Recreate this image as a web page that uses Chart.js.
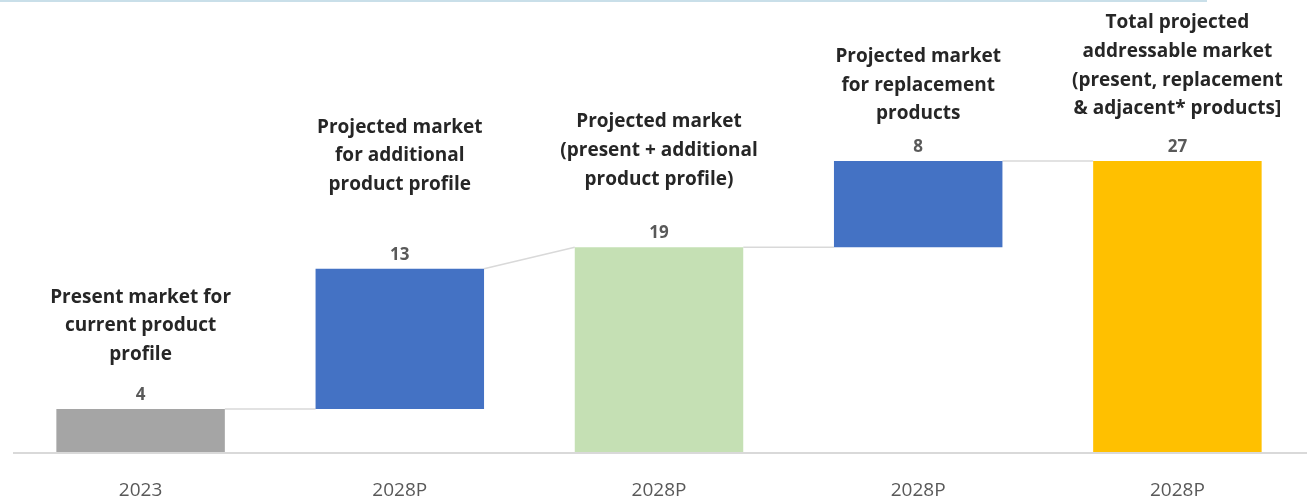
<!DOCTYPE html>
<html>
<head>
<meta charset="utf-8">
<script src="https://cdn.jsdelivr.net/npm/chart.js@4.4.1/dist/chart.umd.min.js"></script>
<style>
  html, body { margin: 0; padding: 0; background: #ffffff; }
  #wrap { position: relative; width: 1312px; height: 502px; }
</style>
</head>
<body>
<div id="wrap"><canvas id="c" width="1312" height="502"></canvas></div>
<script>
// Market size waterfall
const categories = ['2023', '2028P', '2028P', '2028P', '2028P'];
const barStart   = [0, 4, 0, 19, 0];
const barEnd     = [4, 17, 19, 27, 27];
const valueLabels = ['4', '13', '19', '8', '27'];
const notes = [
  ['Present market for', 'current product', 'profile'],
  ['Projected market', 'for additional', 'product profile'],
  ['Projected market', '(present + additional', 'product profile)'],
  ['Projected market', 'for replacement', 'products'],
  ['Total projected', 'addressable market', '(present, replacement', '& adjacent* products]']
];
const barColors = ['#a5a5a5', '#4472c4', '#c5e0b4', '#4472c4', '#ffc000'];

// distance (px) from the value label up to the last line of each note
const noteLift = [40, 70, 54, 33, 38];

const FONT = '"Open Sans", "Noto Sans", "Liberation Sans", sans-serif';

const decorations = {
  id: 'decorations',
  beforeDatasetsDraw(chart) {
    const ctx = chart.ctx;
    const y = chart.scales.y;
    const area = chart.chartArea;
    ctx.save();
    // thin rule along the top edge
    ctx.strokeStyle = '#c9dfe9';
    ctx.lineWidth = 2;
    ctx.beginPath();
    ctx.moveTo(0, 1);
    ctx.lineTo(1207, 1);
    ctx.stroke();
    // baseline
    ctx.strokeStyle = '#d9d9d9';
    ctx.lineWidth = 2;
    ctx.beginPath();
    ctx.moveTo(area.left + 2, y.getPixelForValue(0) + 1);
    ctx.lineTo(area.right, y.getPixelForValue(0) + 1);
    ctx.stroke();
    // connectors between neighbouring bars
    const bars = chart.getDatasetMeta(0).data;
    ctx.strokeStyle = '#d9d9d9';
    ctx.lineWidth = 1.5;
    for (let i = 0; i < bars.length - 1; i++) {
      const a = bars[i], b = bars[i + 1];
      const x1 = a.x + a.width / 2;
      const x2 = b.x - b.width / 2;
      const y1 = y.getPixelForValue(barEnd[i]);
      const y2 = y.getPixelForValue(barStart[i + 1] > 0 ? barStart[i + 1] : barEnd[i + 1]);
      ctx.beginPath();
      ctx.moveTo(x1, y1);
      ctx.lineTo(x2, y2);
      ctx.stroke();
    }
    ctx.restore();
  },
  afterDatasetsDraw(chart) {
    const ctx = chart.ctx;
    const y = chart.scales.y;
    const bars = chart.getDatasetMeta(0).data;
    ctx.save();
    ctx.textAlign = 'center';
    ctx.textBaseline = 'middle';
    bars.forEach((bar, i) => {
      const top = y.getPixelForValue(barEnd[i]);
      const vy = top - 14;
      ctx.fillStyle = '#595959';
      ctx.font = 'bold 17px ' + FONT;
      ctx.fillText(valueLabels[i], bar.x, vy);
      ctx.fillStyle = '#262626';
      ctx.font = 'bold 19px ' + FONT;
      const lines = notes[i];
      const lastY = vy - noteLift[i];
      lines.forEach((t, k) => {
        ctx.fillText(t, bar.x, lastY - (lines.length - 1 - k) * 28.8);
      });
    });
    ctx.restore();
  }
};

new Chart(document.getElementById('c'), {
  type: 'bar',
  data: {
    labels: categories,
    datasets: [{
      data: barStart.map((s, i) => [s, barEnd[i]]),
      backgroundColor: barColors,
      borderWidth: 0,
      categoryPercentage: 1,
      barPercentage: 0.65
    }]
  },
  options: {
    responsive: false,
    animation: false,
    layout: { padding: { top: 128.6, left: 11, right: 5, bottom: 0 } },
    plugins: { legend: { display: false }, tooltip: { enabled: false } },
    scales: {
      y: { display: false, min: 0, max: 30 },
      x: {
        grid: { display: false, drawTicks: false },
        border: { display: false },
        ticks: { color: '#595959', font: { size: 19, family: FONT }, padding: 27 },
        afterFit(s) { s.height = 50; }
      }
    }
  },
  plugins: [decorations]
});
</script>
</body>
</html>
